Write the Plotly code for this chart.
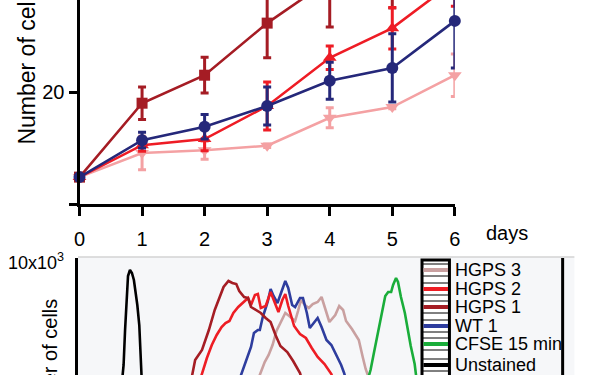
import plotly.graph_objects as go

W, H = 600, 375
FONT = "Liberation Sans, Arial, Helvetica, sans-serif"

# ---------------- top panel data: growth curve ----------------
days = [0, 1, 2, 3, 4, 5, 6]
day_labels = ["0", "1", "2", "3", "4", "5", "6"]

hgps1 = [4.8, 18.0, 23.0, 32.3, 40.0, 45.5, 50.5]
hgps1_err = [0.3, 2.9, 3.2, 6.2, 8.4, 10.5, 10.0]
hgps2 = [4.8, 10.5, 11.6, 17.5, 26.1, 31.4, 39.8]
hgps2_err = [0.3, 1.1, 2.1, 4.3, 2.1, 3.7, 4.5]
wt1 = [4.8, 11.4, 13.8, 17.5, 22.0, 24.3, 32.7]
wt1_err = [0.3, 1.4, 2.2, 3.4, 3.3, 6.1, 8.4]
hgps3 = [4.8, 9.1, 9.6, 10.4, 15.4, 17.3, 23.0]
hgps3_err = [0.3, 3.0, 1.6, 0.3, 1.8, 0.3, 3.8]

# ---------------- bottom panel data: CFSE histograms ----------------
unst_x = [91, 94, 97, 100, 103, 107, 111, 115, 118, 122, 126, 129, 131]
unst_y = [3900, 4650, 6400, 8150, 9100, 9400, 9250, 8900, 8400, 7650, 6650, 5400, 3900]

h1_x = [232, 240, 254, 268, 280, 290, 298, 308, 316, 324, 330, 340, 348, 354, 364, 374,
        384, 394, 404, 414, 428, 440, 454, 458]
h1_y = [3900, 4900, 5400, 6400, 7400, 8000, 8550, 8850, 8750, 8700, 8350, 8050, 8000, 7550,
        7400, 7250, 7000, 6800, 6150, 5600, 5300, 4850, 4250, 3900]

h2_x = [250, 264, 274, 284, 294, 302, 310, 318, 328, 338, 348, 354, 362, 368, 374, 384, 394,
        402, 410, 418, 424, 430, 442, 454, 466, 478, 490, 504, 518, 522]
h2_y = [3900, 5000, 5650, 6150, 6550, 6750, 6850, 7250, 7550, 7800, 8000, 7650, 8150, 8200,
        7500, 7600, 8300, 7800, 7300, 7900, 8200, 7600, 6600, 6200, 6000, 5500, 5050, 4700,
        4200, 3900]

wt_x = [330, 336, 344, 354, 360, 368, 372, 378, 384, 388, 394, 400, 408, 418, 424, 430, 438,
        444, 454, 460, 468, 474, 484, 490, 498, 508, 518, 528, 538, 544, 548]
wt_y = [3900, 4300, 4800, 5550, 6250, 6400, 6400, 7050, 7500, 7800, 8450, 8100, 7750, 8400,
        8850, 8500, 7650, 7550, 8000, 8000, 7250, 6500, 6800, 7000, 6550, 5900, 5650, 5150,
        4650, 4250, 3900]

h3_x = [368, 374, 382, 390, 398, 406, 416, 424, 432, 444, 450, 456, 464, 472, 480, 490, 498,
        506, 514, 526, 534, 542, 548, 560, 574, 582, 588, 596]
h3_y = [3900, 4250, 4800, 5150, 5650, 6350, 6900, 7250, 7100, 6850, 7350, 7900, 7650, 7500,
        7700, 7800, 8050, 7450, 6800, 7150, 7600, 7400, 6850, 6450, 5900, 5050, 4450, 3900]

cfse_x = [592, 598, 604, 610, 618, 624, 628, 634, 640, 644, 650, 654, 660, 668, 674, 680, 688, 692]
cfse_y = [3900, 4400, 5150, 5900, 6800, 7500, 8100, 8300, 8300, 8650, 9000, 8800, 8050, 7250,
          6400, 5600, 4700, 3900]

legend_labels = ["HGPS 3", "HGPS 2", "HGPS 1", "WT 1", "CFSE 15 min", "Unstained"]
legend_colors = ["#c9a0a0", "#ee1d24", "#a51d24", "#2e3d9e", "#1aad3a", "#000000"]

C_H1 = "#a51c24"
C_H2 = "#ee1c25"
C_H3 = "#f4a1a3"
C_WT = "#25287a"


def px(p):
    return p / W


def py(p):
    return 1 - p / H


fig = go.Figure()

top_series = [
    ("HGPS 3", hgps3, hgps3_err, C_H3, "triangle-down", 12),
    ("HGPS 1", hgps1, hgps1_err, C_H1, "square", 11),
    ("HGPS 2", hgps2, hgps2_err, C_H2, "triangle-up", 12),
    ("WT 1", wt1, wt1_err, C_WT, "circle", 12),
]
for name, vals, errs, col, sym, sz in top_series:
    fig.add_trace(go.Scatter(
        x=days, y=vals, name=name, mode="lines+markers",
        line=dict(color=col, width=2.6),
        marker=dict(symbol=sym, size=sz, color=col),
        error_y=dict(type="data", array=errs, color=col, thickness=3, width=4),
        xaxis="x", yaxis="y", showlegend=False, cliponaxis=False,
    ))

bottom_series = [
    (unst_x, unst_y, "#000000"),
    (h3_x, h3_y, "#c9a0a0"),
    (wt_x, wt_y, "#2e3d9e"),
    (h2_x, h2_y, "#ee1d24"),
    (h1_x, h1_y, "#a51d24"),
    (cfse_x, cfse_y, "#1aad3a"),
]
for xs, ys, col in bottom_series:
    fig.add_trace(go.Scatter(
        x=xs, y=ys, mode="lines", line=dict(color=col, width=2.6),
        xaxis="x2", yaxis="y2", showlegend=False,
    ))

shapes = []
# bottom panel background and top border
shapes.append(dict(type="rect", xref="paper", yref="paper", x0=px(73.5), x1=px(580),
                   y0=0, y1=py(257.5), fillcolor="#f6f7f9", line=dict(width=0), layer="below"))
shapes.append(dict(type="line", xref="paper", yref="paper", x0=px(73.5), x1=px(580),
                   y0=py(257), y1=py(257), line=dict(color="#bdbdbd", width=1)))
# right black border
shapes.append(dict(type="line", xref="paper", yref="paper", x0=px(568), x1=px(568),
                   y0=py(258), y1=py(380), line=dict(color="black", width=3)))
# legend sample box
shapes.append(dict(type="rect", xref="paper", yref="paper", x0=px(424.5), x1=px(452.5),
                   y0=py(390), y1=py(260), fillcolor="white", line=dict(color="black", width=3)))
row_y = [270, 289, 307, 326, 344, 365]
annotations = []
for lab, col, ry in zip(legend_labels, legend_colors, row_y):
    for off in (-6, 6):
        shapes.append(dict(type="line", xref="paper", yref="paper", x0=px(425), x1=px(452),
                           y0=py(ry + off), y1=py(ry + off), line=dict(color="black", width=1)))
    shapes.append(dict(type="line", xref="paper", yref="paper", x0=px(426), x1=px(451),
                       y0=py(ry), y1=py(ry), line=dict(color=col, width=4)))
    annotations.append(dict(text=lab, xref="paper", yref="paper", x=px(456), y=py(ry),
                            xanchor="left", yanchor="middle", showarrow=False,
                            font=dict(family=FONT, size=18, color="black")))

annotations += [
    dict(text="Number of cells", xref="paper", yref="paper", x=px(21), y=py(147),
         textangle=-90, xanchor="center", yanchor="bottom", showarrow=False,
         font=dict(family=FONT, size=23, color="black")),
    dict(text="days", xref="paper", yref="paper", x=px(511), y=py(233),
         xanchor="center", yanchor="middle", showarrow=False,
         font=dict(family=FONT, size=20, color="black")),
    dict(text="10x10<sup>3</sup>", xref="paper", yref="paper", x=0, y=py(261),
         xanchor="left", yanchor="middle", showarrow=False,
         font=dict(family=FONT, size=18, color="black")),
    dict(text="Number of cells", xref="paper", yref="paper", x=px(44), y=py(297),
         textangle=-90, xanchor="center", yanchor="top", showarrow=False,
         font=dict(family=FONT, size=20, color="black")),
]

fig.update_layout(
    width=W, height=H, margin=dict(l=0, r=0, t=0, b=0),
    paper_bgcolor="white", plot_bgcolor="rgba(0,0,0,0)",
    font=dict(family=FONT, color="black"),
    xaxis=dict(domain=[px(75), px(458)], range=[0, 6], tickvals=days, ticktext=day_labels,
               ticks="outside", ticklen=9, tickwidth=3, tickcolor="black",
               showline=True, linewidth=3, linecolor="black", showgrid=False, zeroline=False,
               tickfont=dict(size=20, color="black"), anchor="y", ticklabelstandoff=6),
    yaxis=dict(domain=[py(204), 1], range=[0, 204 / 5.6], tickvals=[0, 20], ticktext=["", "20"],
               ticks="outside", ticklen=8, tickwidth=3, tickcolor="black",
               showline=True, linewidth=3, linecolor="black", showgrid=False, zeroline=False,
               tickfont=dict(size=20, color="black"), anchor="x"),
    xaxis2=dict(domain=[px(73.5), px(580)], range=[1, 1014], showticklabels=False, ticks="",
                showline=False, showgrid=False, zeroline=False, anchor="y2"),
    yaxis2=dict(domain=[0, py(258)], range=[4150, 10000], showticklabels=False, ticks="",
                showline=True, linewidth=2.5, linecolor="black", showgrid=False, zeroline=False,
                anchor="x2"),
    shapes=shapes, annotations=annotations,
)

fig.write_html(
    "out.html",
    config={"displayModeBar": False},
    post_script="document.body.style.margin='0';document.body.style.overflow='hidden';",
)
